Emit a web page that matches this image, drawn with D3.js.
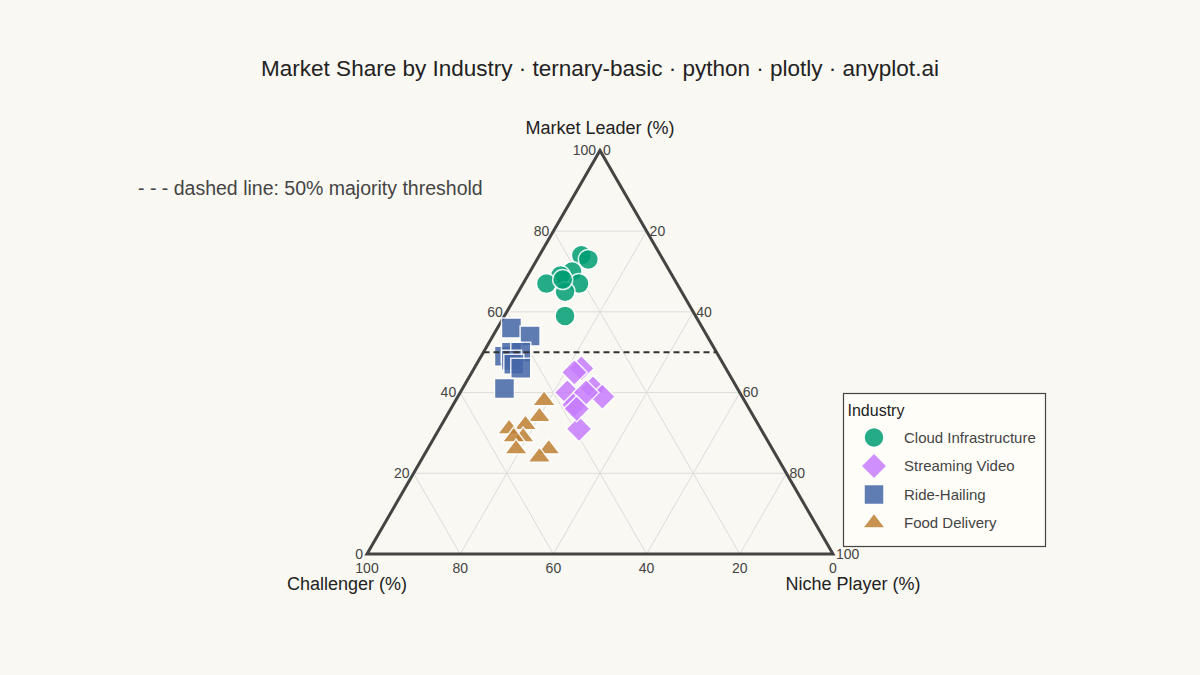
<!DOCTYPE html>
<html>
<head>
<meta charset="utf-8">
<script src="https://cdn.jsdelivr.net/npm/d3@7"></script>
<style>
  html, body { margin: 0; padding: 0; background: #FAF8F2; }
  svg { display: block; font-family: "Liberation Sans", Arial, sans-serif; }
</style>
</head>
<body>
<svg id="chart" width="1200" height="675"></svg>
<script>
// ---- Data (percent: leader, challenger, niche) ----
const industries = ["Cloud Infrastructure", "Streaming Video", "Ride-Hailing", "Food Delivery"];
const cloudLeader      = [74, 73, 70, 69, 67, 67, 65, 59, 68];
const cloudChallenger  = [17, 16, 21, 24, 28, 21, 25, 28, 24];
const cloudNiche       = [ 9, 11,  9,  7,  5, 12, 10, 13,  8];
const streamLeader     = [46, 45, 41, 39, 40, 37, 31, 40, 36];
const streamChallenger = [31, 33, 31, 30, 37, 37, 39, 33, 37];
const streamNiche      = [23, 22, 28, 31, 23, 26, 30, 27, 27];
const rideLeader       = [49, 56, 54, 50, 50, 48, 47, 46, 41];
const rideChallenger   = [46, 41, 38, 44, 42, 45, 45, 44, 50];
const rideNiche        = [ 5,  3,  8,  6,  8,  7,  8, 10,  9];
const foodLeader       = [38, 34, 32, 31, 29, 29, 26, 26, 24];
const foodChallenger   = [43, 46, 50, 54, 52, 54, 55, 48, 51];
const foodNiche        = [19, 20, 18, 15, 19, 17, 19, 26, 25];
const tickValues = [0, 20, 40, 60, 80, 100];
const gridValues = [20, 40, 60, 80];
const thresholdLeader = 50;

const seriesColors = ["#009E73", "#C77DFF", "#4567A8", "#BF8034"];
const seriesSymbols = ["circle", "diamond", "square", "triangle"];

const series = [
  {name: industries[0], a: cloudLeader, b: cloudChallenger, c: cloudNiche},
  {name: industries[1], a: streamLeader, b: streamChallenger, c: streamNiche},
  {name: industries[2], a: rideLeader, b: rideChallenger, c: rideNiche},
  {name: industries[3], a: foodLeader, b: foodChallenger, c: foodNiche}
];

const svg = d3.select("#chart");
const W = 1200, H = 675;
svg.append("rect").attr("width", W).attr("height", H).attr("fill", "#FAF8F2");

// Ternary geometry via scales
const triLeft = 367, triRight = 833, triBottom = 554;
const triSide = triRight - triLeft;
const triHeight = triSide * Math.sqrt(3) / 2;
const xScale = d3.scaleLinear().domain([0, 100]).range([triLeft, triRight]);
const yScale = d3.scaleLinear().domain([0, 100]).range([triBottom, triBottom - triHeight]);

function project(a, b, c) {
  const s = a + b + c;
  const A = a / s * 100, C = c / s * 100;
  return [xScale(C + A / 2), yScale(A)];
}

// Grid lines
const grid = svg.append("g").attr("stroke", "#DCDCDC").attr("stroke-width", 1).attr("fill", "none");
gridValues.forEach(v => {
  let p1 = project(v, 100 - v, 0), p2 = project(v, 0, 100 - v);
  grid.append("line").attr("x1", p1[0]).attr("y1", p1[1]).attr("x2", p2[0]).attr("y2", p2[1]);
  p1 = project(100 - v, v, 0); p2 = project(0, v, 100 - v);
  grid.append("line").attr("x1", p1[0]).attr("y1", p1[1]).attr("x2", p2[0]).attr("y2", p2[1]);
  p1 = project(100 - v, 0, v); p2 = project(0, 100 - v, v);
  grid.append("line").attr("x1", p1[0]).attr("y1", p1[1]).attr("x2", p2[0]).attr("y2", p2[1]);
});

// Outline
const vTop = project(100, 0, 0), vBL = project(0, 100, 0), vBR = project(0, 0, 100);
svg.append("path")
  .attr("d", d3.line()([vTop, vBL, vBR]) + "Z")
  .attr("fill", "none").attr("stroke", "#444").attr("stroke-width", 3).attr("stroke-linejoin", "miter");

// Tick labels
const tickG = svg.append("g").attr("fill", "#444").attr("font-size", 14);
tickValues.forEach(v => {
  let p = project(v, 100 - v, 0);
  tickG.append("text").attr("x", p[0] - 4).attr("y", p[1]).attr("dy", "0.35em")
    .attr("text-anchor", "end").text(v);
  p = project(100 - v, 0, v);
  tickG.append("text").attr("x", p[0] + 3).attr("y", p[1]).attr("dy", "0.35em")
    .attr("text-anchor", "start").text(v);
  p = project(0, v, 100 - v);
  tickG.append("text").attr("x", p[0]).attr("y", p[1] + 14.5).attr("dy", "0.35em")
    .attr("text-anchor", "middle").text(v);
});

// Axis titles
const titleG = svg.append("g").attr("fill", "#222").attr("font-size", 18).attr("text-anchor", "middle");
titleG.append("text").attr("x", vTop[0]).attr("y", vTop[1] - 23).attr("dy", "0.35em").text("Market Leader (%)");
titleG.append("text").attr("x", vBL[0] - 20).attr("y", vBL[1] + 30).attr("dy", "0.35em").text("Challenger (%)");
titleG.append("text").attr("x", vBR[0] + 20).attr("y", vBR[1] + 30).attr("dy", "0.35em").text("Niche Player (%)");

// Marker symbol paths
function symbolPath(sym) {
  const r = 10;
  if (sym === "circle") return d3.symbol().type(d3.symbolCircle).size(Math.PI * r * r)();
  if (sym === "square") return `M${r},${r}H${-r}V${-r}H${r}Z`;
  if (sym === "diamond") { const rd = r * 1.3; return `M${rd},0L0,${rd}L${-rd},0L0,${-rd}Z`; }
  const rt = r * 2 / Math.sqrt(3), r2 = r / 2;
  return `M${-rt},${r2}H${rt}L0,${-r}Z`;
}

// Markers
series.forEach((s, i) => {
  const pts = s.a.map((a, k) => project(a, s.b[k], s.c[k]));
  svg.append("g").selectAll("path").data(pts).join("path")
    .attr("d", symbolPath(seriesSymbols[i]))
    .attr("transform", d => `translate(${d[0]},${d[1]})`)
    .attr("fill", seriesColors[i])
    .attr("stroke", "#FFFFFF").attr("stroke-width", 1.5)
    .attr("opacity", 0.85);
});

// Threshold dashed line
const t1 = project(thresholdLeader, 100 - thresholdLeader, 0), t2 = project(thresholdLeader, 0, 100 - thresholdLeader);
svg.append("line").attr("x1", t1[0]).attr("y1", t1[1]).attr("x2", t2[0]).attr("y2", t2[1])
  .attr("stroke", "#333").attr("stroke-width", 2).attr("stroke-dasharray", "6,4");

// Title
svg.append("text").attr("x", 600).attr("y", 68).attr("dy", "0.35em")
  .attr("text-anchor", "middle").attr("font-size", 22.5).attr("fill", "#222")
  .text("Market Share by Industry · ternary-basic · python · plotly · anyplot.ai");

// Annotation
svg.append("text").attr("x", 138).attr("y", 188).attr("dy", "0.35em")
  .attr("font-size", 19.5).attr("fill", "#444")
  .text("- - - dashed line: 50% majority threshold");

// Legend
const lg = svg.append("g").attr("transform", "translate(843.5,393.5)");
lg.append("rect").attr("width", 202).attr("height", 153)
  .attr("fill", "#FFFDF7").attr("stroke", "#444").attr("stroke-width", 1.2);
lg.append("text").attr("x", 4).attr("y", 17).attr("dy", "0.35em")
  .attr("font-size", 16).attr("fill", "#222").text("Industry");
industries.forEach((name, i) => {
  const y = 44 + i * 28.5;
  lg.append("path").attr("d", symbolPath(seriesSymbols[i]))
    .attr("transform", `translate(30.5,${y})`)
    .attr("fill", seriesColors[i]).attr("stroke", "#FFFFFF").attr("stroke-width", 1.5)
    .attr("opacity", 0.85);
  lg.append("text").attr("x", 60.5).attr("y", y).attr("dy", "0.35em")
    .attr("font-size", 15).attr("fill", "#444").text(name);
});
</script>
</body>
</html>
